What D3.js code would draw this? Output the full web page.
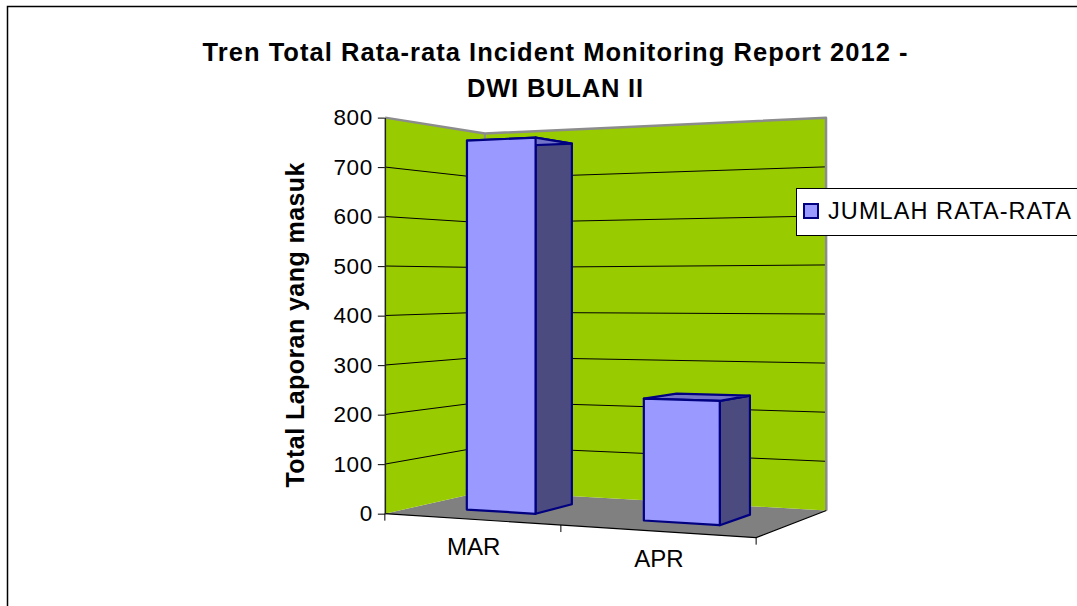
<!DOCTYPE html>
<html>
<head>
<meta charset="utf-8">
<script src="https://cdn.jsdelivr.net/npm/d3@7"></script>
<style>
body { margin: 0; background: #fff; }
svg { display: block; font-family: "Liberation Sans", Arial, sans-serif; }
</style>
</head>
<body>
<svg id="chart" width="1077" height="606"></svg>
<script>
var categories = ["MAR", "APR"];
var values = [758, 238];
var yTicks = [0, 100, 200, 300, 400, 500, 600, 700, 800];
var seriesName = "JUMLAH RATA-RATA";
var titleLines = ["Tren Total Rata-rata Incident Monitoring Report 2012 -", "DWI BULAN II"];
var yTitle = "Total Laporan yang masuk";

// box is X 0..2 (categories), Y 0..1 (value), Z 0..1 (depth, 0 = front)
// screen spots of the box corners, used to fit the perspective
var boxCorners = [
    [[0, 0, 0], [385, 513]],
    [[0, 1, 0], [385, 118]],
    [[0, 0, 1], [485, 492]],
    [[0, 1, 1], [485, 133]],
    [[2, 0, 1], [826, 510]],
    [[2, 1, 1], [826, 118]],
    [[2, 0, 0], [757, 538]],
    [[1, 0, 0], [560, 525]]
];

function fitProjection(pts) {
    var A = [], b = [];
    pts.forEach(function(p) {
        var X = p[0][0], Y = p[0][1], Z = p[0][2], u = p[1][0], v = p[1][1];
        A.push([X, Y, Z, 1, 0, 0, 0, 0, -u * X, -u * Y, -u * Z]); b.push(u);
        A.push([0, 0, 0, 0, X, Y, Z, 1, -v * X, -v * Y, -v * Z]); b.push(v);
    });
    var n = 11, M = [], i, j, k;
    for (i = 0; i < n; i++) { M.push([]); for (j = 0; j <= n; j++) M[i].push(0); }
    for (var r = 0; r < A.length; r++) {
        for (i = 0; i < n; i++) {
            for (j = 0; j < n; j++) M[i][j] += A[r][i] * A[r][j];
            M[i][n] += A[r][i] * b[r];
        }
    }
    for (i = 0; i < n; i++) {
        var piv = i;
        for (k = i + 1; k < n; k++) if (Math.abs(M[k][i]) > Math.abs(M[piv][i])) piv = k;
        var t = M[i]; M[i] = M[piv]; M[piv] = t;
        for (k = 0; k < n; k++) {
            if (k === i) continue;
            var f = M[k][i] / M[i][i];
            for (j = i; j <= n; j++) M[k][j] -= f * M[i][j];
        }
    }
    var p = M.map(function(row, i) { return row[n] / row[i]; });
    return function(X, Y, Z) {
        var w = p[8] * X + p[9] * Y + p[10] * Z + 1;
        return [(p[0] * X + p[1] * Y + p[2] * Z + p[3]) / w,
                (p[4] * X + p[5] * Y + p[6] * Z + p[7]) / w];
    };
}

var project = fitProjection(boxCorners);

var x = d3.scaleBand().domain(categories).range([0, 2]).paddingInner(0.6).paddingOuter(0.3);
var y = d3.scaleLinear().domain([0, 800]).range([0, 1]);
var zFront = 0.3, zBack = 0.7;

function poly(pts) {
    return "M" + pts.map(function(q) { var s = project(q[0], q[1], q[2]); return s[0] + "," + s[1]; }).join("L") + "Z";
}
function line(a, b) {
    return "M" + project(a[0], a[1], a[2]).join(",") + "L" + project(b[0], b[1], b[2]).join(",");
}

var svg = d3.select("#chart");

// outer frame
svg.append("rect")
    .attr("x", 7.5).attr("y", 6.5).attr("width", 1100).attr("height", 700)
    .attr("fill", "none").attr("stroke", "#000").attr("stroke-width", 1.5);

// title
svg.selectAll(".title").data(titleLines).enter().append("text")
    .attr("class", "title")
    .attr("x", 555)
    .attr("y", function(d, i) { return 61 + i * 36; })
    .attr("text-anchor", "middle")
    .attr("font-weight", "bold")
    .attr("font-size", 25.5)
    .attr("textLength", function(d, i) { return i === 0 ? 705 : 176; })
    .attr("lengthAdjust", "spacing")
    .text(function(d) { return d; });

// floor and walls
var g = svg.append("g");
g.append("path").attr("d", poly([[0,0,0],[2,0,0],[2,0,1],[0,0,1]])).attr("fill", "#808080");
g.append("path").attr("d", poly([[0,0,0],[0,1,0],[0,1,1],[0,0,1]])).attr("fill", "#99CC00");
g.append("path").attr("d", poly([[0,0,1],[0,1,1],[2,1,1],[2,0,1]])).attr("fill", "#99CC00");

// gridlines on both walls
yTicks.slice(1, -1).forEach(function(v) {
    g.append("path").attr("d", line([0, y(v), 0], [0, y(v), 1]) + line([0, y(v), 1], [2, y(v), 1]).replace("M", "L"))
        .attr("fill", "none").attr("stroke", "#000").attr("stroke-width", 1);
});

// wall edges
g.append("path")
    .attr("d", line([0,1,0],[0,1,1]) + line([0,1,1],[2,1,1]).replace("M", "L") + line([2,1,1],[2,0,1]).replace("M", "L"))
    .attr("fill", "none").attr("stroke", "#8c8c8c").attr("stroke-width", 2.5).attr("stroke-linejoin", "round");
g.append("path").attr("d", line([0,0,1],[0,1,1]))
    .attr("stroke", "#8c8c8c").attr("stroke-width", 2);

// floor front & side edges with category ticks
g.append("path").attr("d", line([0,0,0],[2,0,0]) + line([2,0,0],[2,0,1]).replace("M", "L"))
    .attr("fill", "none").attr("stroke", "#000").attr("stroke-width", 1.2);
[0, 1, 2].forEach(function(t) {
    var s = project(t, 0, 0);
    g.append("line").attr("x1", s[0]).attr("y1", s[1]).attr("x2", s[0]).attr("y2", s[1] + 7)
        .attr("stroke", "#000").attr("stroke-width", 1);
});

// value axis on the front left edge
var yScreen = d3.scaleLinear().domain([0, 800]).range([project(0, 0, 0)[1], project(0, 1, 0)[1]]);
var axis = svg.append("g")
    .attr("transform", "translate(" + project(0, 0, 0)[0] + ",0)")
    .call(d3.axisLeft(yScreen).tickValues(yTicks).tickSize(7).tickSizeOuter(0).tickPadding(5));
axis.select(".domain").attr("stroke", "#222").attr("stroke-width", 1.5);
axis.selectAll(".tick line").attr("stroke", "#000");
axis.selectAll(".tick text")
    .attr("font-family", "Liberation Sans, Arial, sans-serif")
    .attr("font-size", 22.5).attr("fill", "#000")
    .attr("letter-spacing", 0.6);

// y axis title
svg.append("text")
    .attr("transform", "translate(304,325) rotate(-90)")
    .attr("text-anchor", "middle")
    .attr("font-weight", "bold").attr("font-size", 25)
    .attr("textLength", 325).attr("lengthAdjust", "spacing")
    .text(yTitle);

// category labels
svg.selectAll(".cat").data(categories).enter().append("text")
    .attr("class", "cat")
    .attr("x", function(d) { return project(x(d) + x.bandwidth() / 2, 0, 0)[0] + 3; })
    .attr("y", function(d) { return project(x(d) + x.bandwidth() / 2, 0, 0)[1] + 36; })
    .attr("text-anchor", "middle")
    .attr("font-size", 24)
    .text(function(d) { return d; });

// bars
var bars = svg.selectAll(".bar").data(categories.map(function(c, i) { return {cat: c, value: values[i]}; }))
    .enter().append("g").attr("class", "bar");

bars.append("path")
    .attr("d", function(d) {
        var x1 = x(d.cat) + x.bandwidth(), h = y(d.value);
        return poly([[x1,0,zFront],[x1,0,zBack],[x1,h,zBack],[x1,h,zFront]]);
    })
    .attr("fill", "#4B4B80");
bars.append("path")
    .attr("d", function(d) {
        var x0 = x(d.cat), x1 = x0 + x.bandwidth(), h = y(d.value);
        return poly([[x0,h,zFront],[x1,h,zFront],[x1,h,zBack],[x0,h,zBack]]);
    })
    .attr("fill", "#7373C8");
bars.append("path")
    .attr("d", function(d) {
        var x0 = x(d.cat), x1 = x0 + x.bandwidth(), h = y(d.value);
        return poly([[x0,0,zFront],[x1,0,zFront],[x1,h,zFront],[x0,h,zFront]]);
    })
    .attr("fill", "#9999FF");
bars.selectAll("path")
    .attr("stroke", "#000080").attr("stroke-width", 2.2).attr("stroke-linejoin", "round");

// legend
var legend = svg.append("g");
legend.append("rect")
    .attr("x", 796.5).attr("y", 188.5).attr("width", 300).attr("height", 47)
    .attr("fill", "#fff").attr("stroke", "#000").attr("stroke-width", 1);
legend.append("rect")
    .attr("x", 804).attr("y", 204).attr("width", 14).attr("height", 14)
    .attr("fill", "#9999FF").attr("stroke", "#000080").attr("stroke-width", 2);
legend.append("text")
    .attr("x", 828).attr("y", 219)
    .attr("font-size", 23.5)
    .attr("textLength", 243).attr("lengthAdjust", "spacing")
    .text(seriesName);
</script>
</body>
</html>
